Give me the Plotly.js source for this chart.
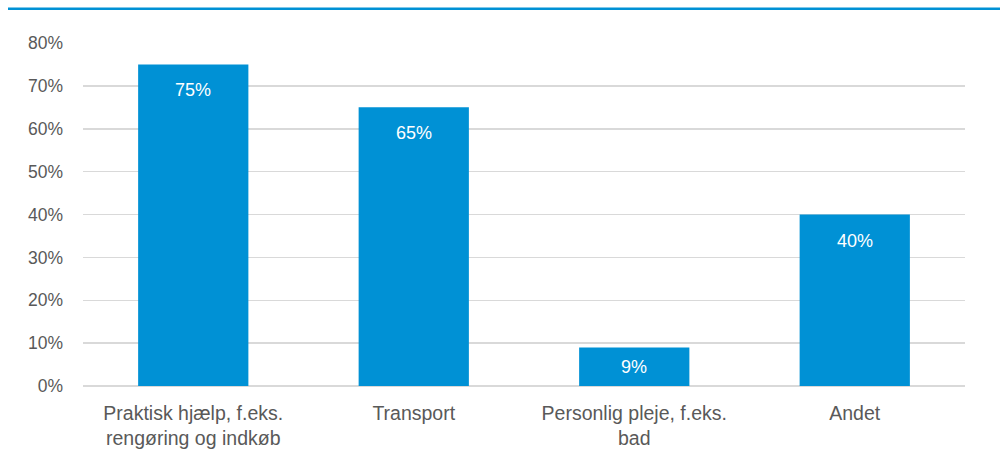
<!DOCTYPE html>
<html>
<head>
<meta charset="utf-8">
<script src="https://cdn.plot.ly/plotly-3.0.1.min.js"></script>
<style>
html,body{margin:0;padding:0;background:#fff;}
#chart{width:1000px;height:473px;}
</style>
</head>
<body>
<div id="chart"></div>
<script>
const categories = ["Praktisk hjælp, f.eks.<br>rengøring og indkøb", "Transport", "Personlig pleje, f.eks.<br>bad", "Andet"];
const values = [0.75, 0.65, 0.09, 0.40];
const valueLabels = ["75%", "65%", "9%", "40%"];

const L = 83, R = 35, T = 43, B = 87;
const W = 1000, H = 473;
const pw = W - L - R, ph = H - T - B;
const blue = "#0091d5";
const fam = "Liberation Sans";

const trace = {
  type: "bar",
  x: categories,
  y: values,
  marker: {color: blue},
  hoverinfo: "none"
};

const annotations = categories.map((c, i) => ({
  x: c, y: values[i], xref: "x", yref: "y",
  text: valueLabels[i],
  showarrow: false,
  yanchor: "middle",
  yshift: values[i] < 0.15 ? -20 : -26,
  font: {family: fam, size: 18, color: "#ffffff"}
}));

const layout = {
  width: W, height: H,
  margin: {l: L, r: R, t: T, b: B},
  paper_bgcolor: "#ffffff",
  plot_bgcolor: "#ffffff",
  bargap: 0.5,
  showlegend: false,
  font: {family: fam, color: "#595959"},
  xaxis: {
    type: "category",
    showgrid: false,
    showline: false,
    ticks: "",
    ticklabelstandoff: 13,
    tickfont: {family: fam, size: 19.5, color: "#595959"},
    fixedrange: true
  },
  yaxis: {
    range: [0, 0.8],
    dtick: 0.1,
    tick0: 0,
    tickformat: ".0%",
    showgrid: true,
    gridcolor: "#d9d9d9",
    gridwidth: 1.5,
    zeroline: true,
    zerolinecolor: "#d9d9d9",
    zerolinewidth: 1.5,
    showline: false,
    ticks: "",
    ticklabelstandoff: 19,
    tickfont: {family: fam, size: 17.5, color: "#595959"},
    fixedrange: true
  },
  annotations: annotations,
  shapes: [{
    type: "line",
    xref: "paper", yref: "paper",
    x0: (8 - L) / pw, x1: (W - L) / pw,
    y0: (H - B - 8.8) / ph, y1: (H - B - 8.8) / ph,
    line: {color: blue, width: 2.5}
  }]
};

Plotly.newPlot("chart", [trace], layout, {displayModeBar: false, staticPlot: true});
</script>
</body>
</html>
